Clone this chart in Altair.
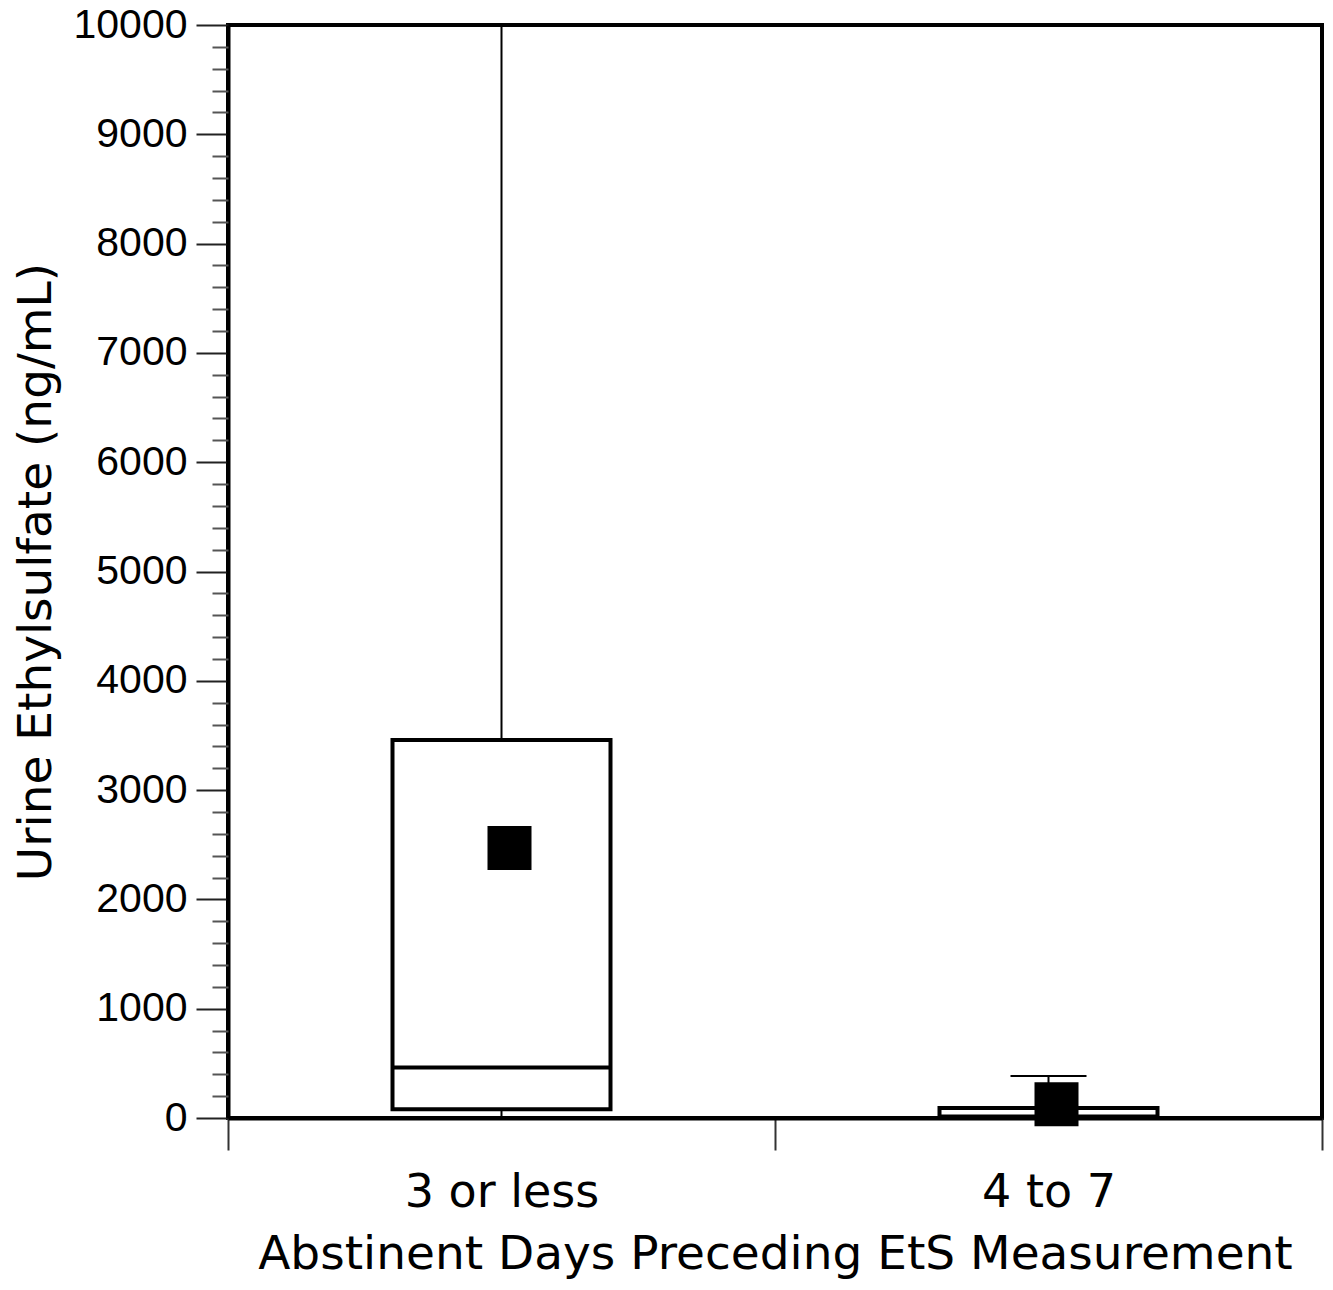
import altair as alt
import pandas as pd

groups = ["3 or less", "4 to 7"]
whisker_low = [0, 0]
q1 = [80, 10]
median = [462, 14]
q3 = [3458, 91]
whisker_high = [10000, 385]
means = [2470, 125]

major_ticks = list(range(0, 10001, 1000))
minor_ticks = [v for v in range(0, 10001, 200) if v % 1000 != 0]

df = pd.DataFrame({
    "group": groups,
    "lo": whisker_low,
    "q1": q1,
    "med": median,
    "q3": q3,
    "hi": whisker_high,
    "mean": means,
})

FONT = "DejaVu Sans"

xenc = alt.X(
    "group:N",
    sort=groups,
    scale=alt.Scale(paddingInner=0, paddingOuter=0),
    axis=alt.Axis(
        title="Abstinent Days Preceding EtS Measurement",
        titleFont=FONT, titleFontSize=47, titleFontWeight="normal", titleColor="black",
        titleBaseline="alphabetic", titleY=150,
        labelFont=FONT, labelFontSize=46, labelColor="black", labelAngle=0,
        labelPadding=20, labelLimit=0,
        tickBand="extent", tickSize=32, tickWidth=2, tickColor="#333",
        domainWidth=4, domainColor="black",
    ),
)

yscale = alt.Scale(domain=[0, 10000], nice=False, zero=True)

major_axis = alt.Axis(
    orient="left",
    values=major_ticks,
    format="d",
    title="Urine Ethylsulfate (ng/mL)",
    titleFont=FONT, titleFontSize=47, titleFontWeight="normal", titleColor="black",
    titleX=-192, titleBaseline="middle",
    labelFont="Liberation Sans", labelFontSize=41, labelColor="black",
    labelPadding=9, labelLimit=0,
    tickSize=32, tickWidth=2, tickColor="#222",
    domainWidth=4, domainColor="black",
    grid=False,
)

minor_axis = alt.Axis(
    orient="left",
    values=minor_ticks,
    title=None,
    labels=False,
    domain=False,
    tickSize=16, tickWidth=2, tickColor="#555",
    grid=False,
)

base = alt.Chart(df)

upper_whisker = base.mark_rule(color="black", strokeWidth=2).encode(
    x=xenc,
    y=alt.Y("q3:Q", scale=yscale, axis=major_axis),
    y2="hi:Q",
)

lower_whisker = base.mark_rule(color="black", strokeWidth=2).encode(
    x=xenc,
    y=alt.Y("lo:Q", scale=yscale, axis=None),
    y2="q1:Q",
)

caps = base.mark_tick(color="black", size=76, thickness=2, opacity=1).encode(
    x=xenc,
    y=alt.Y("hi:Q", scale=yscale, axis=None),
)

boxes = base.mark_bar(fill="white", stroke="black", strokeWidth=4, size=218, opacity=1).encode(
    x=xenc,
    y=alt.Y("q1:Q", scale=yscale, axis=minor_axis),
    y2="q3:Q",
)

medians = base.mark_tick(color="black", size=218, thickness=4, opacity=1).encode(
    x=xenc,
    y=alt.Y("med:Q", scale=yscale, axis=None),
)

mean_pts = base.mark_square(color="black", filled=True, size=1936, opacity=1, xOffset=8).encode(
    x=xenc,
    y=alt.Y("mean:Q", scale=yscale, axis=None),
)

chart = alt.layer(
    upper_whisker, lower_whisker, caps, boxes, medians, mean_pts
).resolve_axis(y="independent").properties(
    width=1094,
    height=1093,
    background="white",
    autosize=alt.AutoSizeParams(type="none"),
    padding={"left": 220, "top": 17, "right": 2, "bottom": 164},
).configure_view(
    stroke="black", strokeWidth=4
)

chart.save("out.html", embed_options={"renderer": "svg", "actions": False})
